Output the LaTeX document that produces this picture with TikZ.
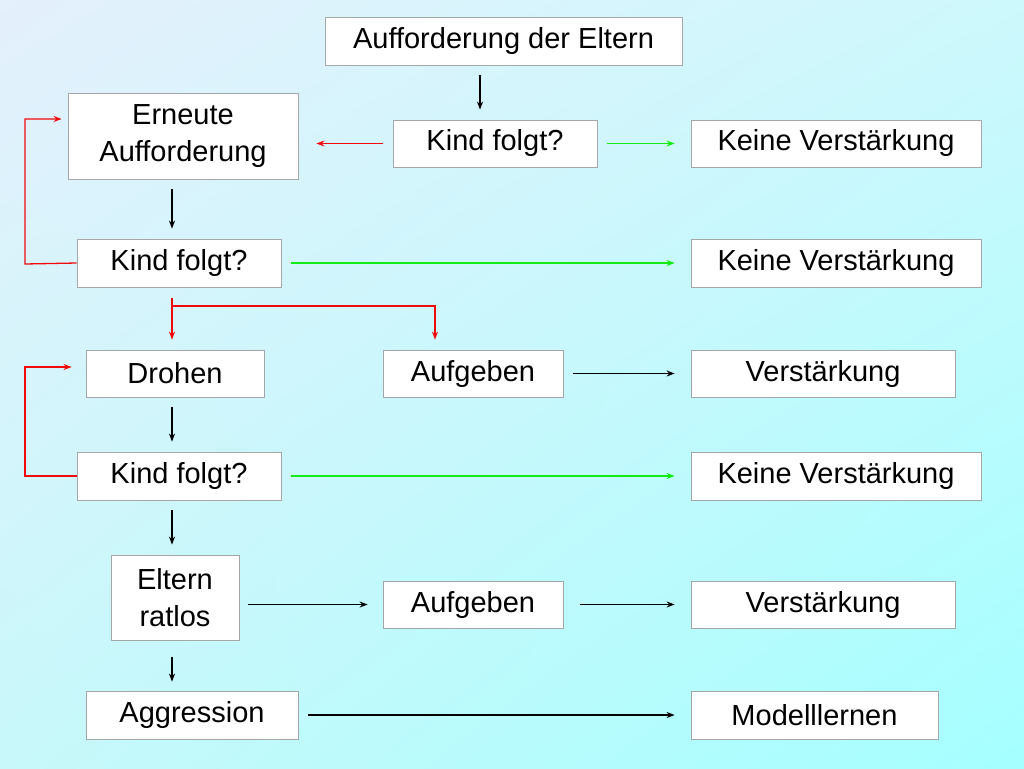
\documentclass[tikz,border=0pt]{standalone}
\usepackage{fontspec}
\setmainfont{Liberation Sans}
\usetikzlibrary{arrows.meta,shadings}
\definecolor{tl}{RGB}{228,240,252}
\definecolor{tr}{RGB}{205,248,252}
\definecolor{bl}{RGB}{200,248,250}
\definecolor{br}{RGB}{165,255,255}
\definecolor{grn}{RGB}{20,235,20}
\definecolor{rd}{RGB}{240,10,10}
\begin{document}
\begin{tikzpicture}[x=1pt,y=-1pt,
  box/.style={draw=gray!70,fill=white,line width=0.8pt,inner sep=0pt,align=center,font=\fontsize{29}{37}\selectfont},
  arr/.style={line width=1.3pt,-{Stealth[length=8pt,width=6pt]}},
  gap/.style={shorten <=10pt,shorten >=10pt}]
\useasboundingbox (0,0) rectangle (1024,768);
\shade[upper left=tl,upper right=tr,lower left=bl,lower right=br] (0,0) rectangle (1024,768);
\newcommand\bx[6]{\node[box,minimum width={#4-#2},minimum height={#5-#3}] (#1) at ({(#2+#4)/2},{(#3+#5)/2}) {#6};}
\bx{A}{325}{17}{682}{65}{Aufforderung der Eltern}
\bx{B}{68}{93}{298}{179}{Erneute\\Aufforderung}
\bx{C}{393}{120}{597}{167}{Kind folgt?}
\bx{D}{691}{120}{981}{167}{Keine Verstärkung}
\bx{E}{77}{239}{281}{287}{Kind folgt?}
\bx{F}{691}{239}{981}{287}{Keine Verstärkung}
\bx{G}{86}{350}{264}{397}{Drohen}
\bx{H}{383}{350}{563}{397}{Aufgeben}
\bx{I}{691}{350}{955}{397}{Verstärkung}
\bx{J}{77}{452}{281}{500}{Kind folgt?}
\bx{K}{691}{452}{981}{500}{Keine Verstärkung}
\bx{L}{111}{555}{239}{640}{Eltern\\ratlos}
\bx{M}{383}{581}{563}{628}{Aufgeben}
\bx{N}{691}{581}{955}{628}{Verstärkung}
\bx{O}{86}{691}{298}{739}{Aggression}
\bx{P}{691}{691}{938}{739}{Modelllernen}
\draw[arr,gap] (A.south -| 480,0) -- (C.north -| 480,0);
\draw[arr,rd,shorten <=10pt,shorten >=18pt] (C.west) -- (B.east |- C.west);
\draw[arr,grn,gap,shorten >=16pt] (C) -- (D);
\draw[arr,gap] (B.south -| 172,0) -- (E.north -| 172,0);
\draw[arr,rd] (E.west) -- (25,264) |- ([xshift=-6pt]B.west |- 0,119);
\draw[arr,grn,gap,shorten >=16pt] (E) -- (F);
\draw[arr,rd,shorten <=11pt,shorten >=10pt] (E.south -| 172,0) -- (G.north -| 172,0);
\draw[arr,rd,shorten >=10pt] (172,306) -| (H.north -| 435,0);
\draw[arr,gap] (G.south -| 172,0) -- (J.north -| 172,0);
\draw[arr,rd] (J.west) -- (25,476) |- ([xshift=-14pt]G.west |- 0,367);
\draw[arr,gap,shorten >=16pt] (H) -- (I);
\draw[arr,grn,gap,shorten >=16pt] (J) -- (K);
\draw[arr,gap,shorten >=10pt] (J.south -| 172,0) -- (L.north -| 172,0);
\draw[arr,shorten <=9pt,shorten >=15pt] (L.east |- M.west) -- (M.west);
\draw[arr,shorten <=17pt,shorten >=16pt] (M) -- (N);
\draw[arr,shorten <=17pt,shorten >=9pt] (L.south -| 172,0) -- (O.north -| 172,0);
\draw[arr,shorten <=10pt,shorten >=16pt] (O) -- (P);
\end{tikzpicture}
\end{document}
